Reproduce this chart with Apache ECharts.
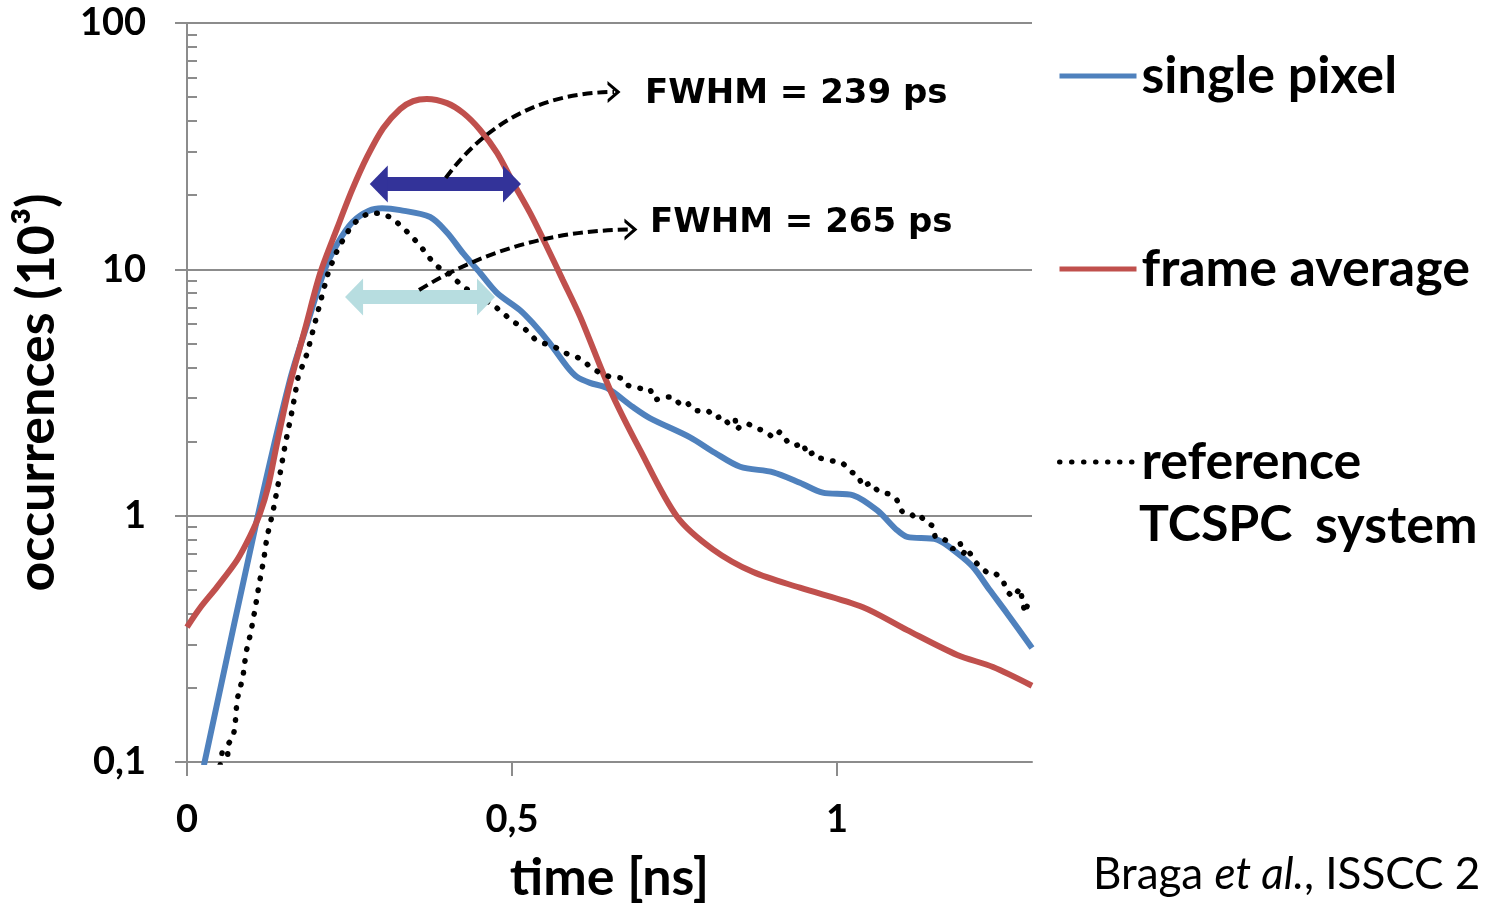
<!DOCTYPE html>
<html><head><meta charset="utf-8">
<script src="https://cdn.jsdelivr.net/npm/echarts@6/dist/echarts.min.js"></script>
<style>html,body{margin:0;padding:0;background:#fff}#c{width:1485px;height:904px}</style>
</head><body><div id="c"></div>
<script>
// ---- data (time in ns, occurrences in 10^3) ----
const singlePixelTime  = [0.026,0.109,0.158,0.185,0.212,0.232,0.255,0.280,0.300,0.328,0.374,0.400,0.425,0.451,0.477,0.512,0.532,0.558,0.585,0.600,0.620,0.646,0.686,0.712,0.774,0.812,0.851,0.902,0.943,0.978,1.025,1.062,1.092,1.108,1.154,1.185,1.209,1.235,1.262,1.300];
const singlePixelValue = [0.097,1.0,3.52,6.0,10.0,12.8,15.6,17.3,17.7,17.4,16.3,14.1,11.6,9.66,8.02,6.84,6.05,5.02,4.02,3.66,3.46,3.30,2.76,2.49,2.08,1.80,1.58,1.50,1.36,1.24,1.21,1.05,0.875,0.82,0.80,0.705,0.62,0.499,0.40,0.290];

const frameAvgTime  = [0.000,0.020,0.046,0.077,0.097,0.112,0.125,0.138,0.158,0.182,0.205,0.231,0.254,0.277,0.302,0.328,0.348,0.369,0.400,0.425,0.451,0.477,0.502,0.528,0.554,0.578,0.605,0.651,0.697,0.754,0.809,0.871,0.943,1.040,1.108,1.185,1.240,1.300];
const frameAvgValue = [0.353,0.422,0.513,0.66,0.827,1.016,1.32,1.94,3.39,5.78,9.66,14.7,21.0,28.6,37.5,44.8,48.2,49.2,47.3,43.1,36.8,29.7,22.4,16.9,12.3,9.06,6.41,3.24,1.85,0.99,0.73,0.59,0.51,0.425,0.343,0.272,0.243,0.204];

const referenceTime  = [0.051,0.054,0.063,0.062,0.071,0.074,0.077,0.086,0.091,0.098,0.105,0.111,0.118,0.123,0.132,0.142,0.151,0.162,0.171,0.185,0.194,0.208,0.218,0.232,0.252,0.266,0.280,0.297,0.315,0.328,0.340,0.355,0.366,0.378,0.389,0.402,0.415,0.428,0.448,0.471,0.486,0.502,0.515,0.528,0.535,0.548,0.566,0.582,0.600,0.609,0.620,0.635,0.651,0.669,0.677,0.686,0.702,0.712,0.720,0.735,0.748,0.758,0.769,0.778,0.794,0.802,0.814,0.823,0.832,0.843,0.846,0.851,0.863,0.878,0.889,0.902,0.912,0.923,0.935,0.948,0.954,0.965,0.975,0.992,1.008,1.023,1.032,1.040,1.051,1.063,1.082,1.092,1.100,1.112,1.120,1.128,1.138,1.148,1.151,1.158,1.169,1.178,1.189,1.194,1.200,1.208,1.212,1.220,1.232,1.243,1.255,1.262,1.271,1.282,1.285,1.289,1.294,1.300];
const referenceValue = [0.097,0.109,0.104,0.117,0.126,0.141,0.179,0.221,0.280,0.334,0.422,0.528,0.661,0.819,1.03,1.42,1.94,2.69,3.66,4.57,5.67,7.87,9.85,12.1,14.9,16.2,16.9,16.9,16.2,15.1,14.1,12.8,11.8,10.7,10.1,9.66,8.97,8.40,7.73,7.17,6.65,6.11,5.89,5.47,5.21,5.02,4.84,4.57,4.40,4.28,4.02,3.80,3.66,3.62,3.39,3.33,3.27,3.27,2.95,3.03,3.03,2.84,2.89,2.69,2.64,2.66,2.49,2.54,2.38,2.49,2.23,2.31,2.36,2.25,2.21,2.07,2.19,2.01,1.92,1.97,1.76,1.81,1.71,1.67,1.64,1.50,1.46,1.31,1.36,1.26,1.22,1.16,1.04,1.03,0.98,1.00,0.934,0.908,0.819,0.819,0.789,0.732,0.782,0.698,0.739,0.679,0.654,0.619,0.585,0.585,0.548,0.490,0.468,0.508,0.455,0.403,0.441,0.420];

const seriesNames = ['single pixel', 'frame average', 'reference TCSPC system'];
const xTickValues = [0, 0.5, 1];
const yMinorTicks = [0.2,0.3,0.4,0.5,0.6,0.7,0.8,0.9,2,3,4,5,6,7,8,9,20,30,40,50,60,70,80,90];

// FWHM annotations (data space)
const fwhmFrameSpan = [0.295, 0.500];  const fwhmFrameLevel = 22.2;
const fwhmPixelSpan = [0.257, 0.460];  const fwhmPixelLevel = 7.73;
const leaderFrame = [[0.398, 23.5], [0.657, 52.5]];
const leaderPixel = [[0.357, 8.24], [0.683, 14.5]];
const fwhmLabels = ['FWHM = 239 ps', 'FWHM = 265 ps'];

// ---- chart ----
const pairs = (t, v) => t.map((x, i) => [x, v[i]]);
const commaFmt = v => String(+(+v).toPrecision(6)).replace('.', ',');
const GRAY = '#8C8C8C';
const F = 'Lato, "Open Sans", "Noto Sans", sans-serif';
const chevron = 'path://M0,12 L10,0 L20,12 L16.5,12 L10,4.5 L3.5,12 Z';

const chart = echarts.init(document.getElementById('c'), null, {renderer: 'canvas'});
chart.setOption({
  animation: false,
  backgroundColor: '#fff',
  grid: {left: 187, right: 453, top: 23, bottom: 142, containLabel: false, outerBoundsMode: 'none'},
  legend: {
    orient: 'vertical', left: 1057, top: 46, padding: 0, itemWidth: 77, itemHeight: 1, itemGap: 133,
    data: seriesNames,
    lineStyle: {width: 5},
    formatter: n => n === seriesNames[2] ? 'reference' : n,
    textStyle: {fontFamily: F, fontWeight: 'bold', fontSize: 52, color: '#000', lineHeight: 60}
  },
  xAxis: {
    type: 'value', min: 0, max: 1.3,
    name: 'time [ns]', nameLocation: 'middle', nameGap: 90,
    nameTextStyle: {fontFamily: F, fontWeight: 'bold', fontSize: 52, color: '#000'},
    axisLine: {show: true, lineStyle: {color: GRAY, width: 2}},
    axisTick: {show: true, length: 14, lineStyle: {color: GRAY, width: 2}, customValues: xTickValues},
    axisLabel: {margin: 39, fontFamily: F, fontWeight: 'bold', fontSize: 38, color: '#000',
      customValues: xTickValues, formatter: commaFmt},
    splitLine: {show: false}
  },
  yAxis: [{
    type: 'log', logBase: 10, min: 0.1, max: 100,
    name: 'occurrences (10³)', nameLocation: 'middle', nameGap: 124,
    nameTextStyle: {fontFamily: F, fontWeight: 'bold', fontSize: 52, color: '#000'},
    axisLine: {show: true, lineStyle: {color: GRAY, width: 2}},
    axisTick: {show: true, length: 12, lineStyle: {color: GRAY, width: 2}},
    axisLabel: {margin: 41, fontFamily: F, fontWeight: 'bold', fontSize: 38, color: '#000', formatter: commaFmt},
    splitLine: {show: true, lineStyle: {color: GRAY, width: 2}}
  }, {
    type: 'log', logBase: 10, min: 0.1, max: 100, position: 'left',
    axisLine: {show: false}, axisLabel: {show: false}, splitLine: {show: false},
    axisTick: {show: true, inside: true, length: 10, lineStyle: {color: GRAY, width: 2}, customValues: yMinorTicks}
  }],
  series: [
    {name: seriesNames[0], type: 'line', data: pairs(singlePixelTime, singlePixelValue),
      smooth: 0.3, symbol: 'none', color: '#4F81BD', lineStyle: {width: 6, color: '#4F81BD'}, z: 3},
    {name: seriesNames[1], type: 'line', data: pairs(frameAvgTime, frameAvgValue),
      smooth: 0.3, symbol: 'none', color: '#C0504D', lineStyle: {width: 6, color: '#C0504D'}, z: 4},
    {name: seriesNames[2], type: 'line', data: pairs(referenceTime, referenceValue),
      smooth: false, symbol: 'none', color: '#000', lineStyle: {width: 5.5, color: '#000', type: [0.5, 11.5], cap: 'round'}, z: 5},
    {type: 'lines', coordinateSystem: 'cartesian2d', z: 6, silent: true,
      symbol: ['triangle', 'triangle'], symbolSize: [[37, 18], [37, 18]],
      data: [
        {coords: [[fwhmFrameSpan[0], fwhmFrameLevel], [fwhmFrameSpan[1], fwhmFrameLevel]], lineStyle: {color: '#333399'}},
        {coords: [[fwhmPixelSpan[0], fwhmPixelLevel], [fwhmPixelSpan[1], fwhmPixelLevel]], lineStyle: {color: '#B7DDE0'}}
      ],
      lineStyle: {width: 14, opacity: 1, cap: 'butt'}},
    {type: 'lines', coordinateSystem: 'cartesian2d', z: 7, silent: true,
      symbol: ['none', chevron], symbolSize: [[22, 13], [22, 13]],
      data: [
        {coords: leaderFrame, lineStyle: {curveness: 0.25}},
        {coords: leaderPixel, lineStyle: {curveness: 0.14}}
      ],
      lineStyle: {width: 4, color: '#000', opacity: 1, type: [10, 5]}}
  ],
  graphic: [
    {type: 'text', left: 645, top: 92 - 15, style: {text: fwhmLabels[0], font: 'bold 34px "DejaVu Sans", Verdana, sans-serif', fill: '#000'}},
    {type: 'text', left: 650, top: 221 - 15, style: {text: fwhmLabels[1], font: 'bold 34px "DejaVu Sans", Verdana, sans-serif', fill: '#000'}},
    {type: 'text', left: 1139, top: 530 - 30, style: {text: 'TCSPC', font: 'bold 50px ' + F, fill: '#000'}},
    {type: 'text', left: 1315, top: 530 - 30, style: {text: 'system', font: 'bold 52px ' + F, fill: '#000'}},
    {type: 'text', left: 1093, top: 879 - 26, style: {
      text: '{n|Braga }{i|et al.}{n|, ISSCC 2}',
      rich: {n: {fontFamily: F, fontSize: 44, fill: '#000', color: '#000'},
             i: {fontFamily: F, fontSize: 44, fontStyle: 'italic', fill: '#000', color: '#000'}}}}
  ]
});
</script></body></html>
